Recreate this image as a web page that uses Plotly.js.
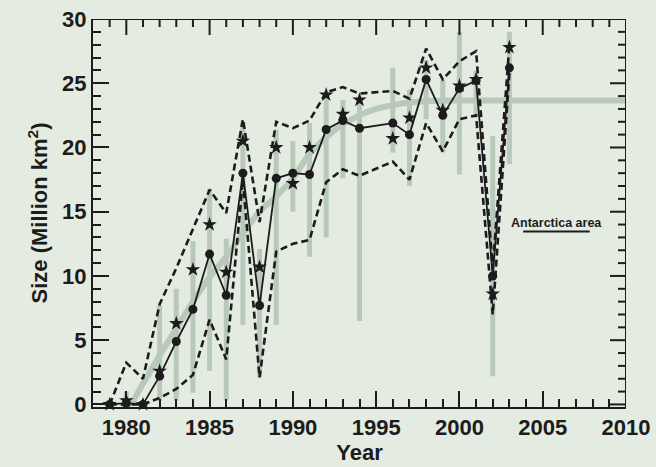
<!DOCTYPE html>
<html>
<head>
<meta charset="utf-8">
<script src="https://cdn.plot.ly/plotly-3.0.1.min.js"></script>
<style>html,body{margin:0;padding:0;background:#e4ebe1;}</style>
</head>
<body>
<div id="chart" style="width:656px;height:467px;"></div>
<script>
// Years with observations (no data in 1995)
const years = [1979,1980,1981,1982,1983,1984,1985,1986,1987,1988,1989,1990,1991,1992,1993,1994,1996,1997,1998,1999,2000,2001,2002,2003];
// Mean size (solid line with dots)
const meanSize = [0,0.1,0,2.2,4.9,7.4,11.7,8.5,18.0,7.7,17.6,18.0,17.9,21.4,22.1,21.5,21.9,21.0,25.3,22.5,24.6,25.2,10.0,26.2];
// Star markers
const starSize = [0,0.3,0,2.6,6.3,10.5,14.0,10.3,20.5,10.7,20.0,17.2,20.0,24.1,22.6,23.7,20.7,22.3,26.2,22.9,24.8,25.3,8.6,27.8];
// Upper and lower dashed envelopes
const upperSize = [0,3.25,2.0,7.8,10.6,13.6,16.7,14.9,22.2,14.2,22.0,21.5,22.1,24.3,24.7,24.2,24.4,23.8,27.7,25.3,26.7,27.5,10.6,28.0];
const lowerSize = [0,0,0,0.5,1.2,2.3,6.6,3.5,17.5,2.1,11.9,12.5,12.8,17.3,18.3,17.8,18.9,17.5,21.9,19.7,22.2,22.5,7.0,25.8];
// Grey range bars
const barYears = [1980,1982,1983,1984,1985,1986,1987,1988,1989,1990,1991,1992,1993,1994,1996,1997,1998,1999,2000,2001,2002,2003];
const barLow  = [0,0.3,0.3,0.9,2.6,0.3,6.2,2.1,6.2,15.0,11.5,13.0,17.6,6.5,19.6,17.0,22.2,19.6,17.9,22.5,2.2,18.7];
const barHigh = [1.0,7.7,9.0,12.7,16.8,12.9,22.0,12.1,21.4,20.5,21.9,24.0,23.7,23.5,26.2,24.5,26.8,25.3,29.0,26.0,20.9,29.0];
// Grey smooth fitted curve
const fitYears = [1980.3,1981,1982,1983,1984,1985,1986,1987,1988,1989,1990,1991,1992,1993,1994,1995,1996,1997,1998,2000,2010];
const fitSize  = [0,1.6,3.8,5.9,8.0,9.9,11.5,13.3,15.0,16.2,17.6,19.5,20.8,21.8,22.5,23.0,23.3,23.5,23.6,23.65,23.65];
// Axis ticks
const xTicks = [1980,1985,1990,1995,2000,2005,2010];
const yTicks = [0,5,10,15,20,25,30];
const xRange = [1978,2010];
const yRange = [-0.2,30];

const grey = 'rgb(184,201,186)';
const ink = '#1c1c1c';
const bg = '#e4ebe1';
const fam = 'Liberation Sans, Arial, sans-serif';

const W = 656, H = 467;
const M = {l:93, r:30, t:19, b:60};
const plotW = W - M.l - M.r, plotH = H - M.t - M.b;
// pixel -> data unit conversion for the tick lengths of the top/right frame
const pxX = (xRange[1] - xRange[0]) / plotW;
const pxY = (yRange[1] - yRange[0]) / plotH;

// top/right frame with its ticks, built from the axis ranges (decoration only)
const frameX = [xRange[0], xRange[1], xRange[1]];
const frameY = [yRange[1], yRange[1], yRange[0]];
const tickX = [], tickY = [];
for (let yr = xRange[0] + 1; yr < xRange[1]; yr++) {
  const len = (yr % 5 === 0 ? 16 : 8) * pxY;
  tickX.push(yr, yr, null); tickY.push(yRange[1], yRange[1] - len, null);
}
for (let v = 0; v < yRange[1]; v++) {
  const len = (v % 5 === 0 ? 16 : 8) * pxX;
  tickX.push(xRange[1], xRange[1] - len, null); tickY.push(v, v, null);
}

const traces = [
  {type:'bar', x:barYears, base:barLow, y:barHigh.map((h,i)=>h-barLow[i]),
   width:0.3, marker:{color:grey, line:{width:0}}, hoverinfo:'skip', showlegend:false},
  {type:'scatter', mode:'lines', x:fitYears, y:fitSize, line:{color:grey, width:6, shape:'spline'}, showlegend:false},
  {type:'scatter', mode:'lines', x:years, y:upperSize, line:{color:ink, width:2.6, dash:'7px,4px'}, showlegend:false, cliponaxis:false},
  {type:'scatter', mode:'lines', x:years, y:lowerSize, line:{color:ink, width:2.6, dash:'7px,4px'}, showlegend:false, cliponaxis:false},
  {type:'scatter', mode:'lines+markers', x:years, y:meanSize, line:{color:ink, width:1.8},
   marker:{symbol:'circle', size:9, color:ink}, showlegend:false, cliponaxis:false},
  {type:'scatter', mode:'markers', x:years, y:starSize,
   marker:{symbol:'star', size:11, color:ink}, showlegend:false, cliponaxis:false},
  {type:'scatter', mode:'lines', x:frameX, y:frameY, line:{color:ink, width:2},
   hoverinfo:'skip', showlegend:false, cliponaxis:false},
  {type:'scatter', mode:'lines', x:tickX, y:tickY, line:{color:ink, width:2},
   connectgaps:false, hoverinfo:'skip', showlegend:false, cliponaxis:false}
];

const tickFont = {family:fam, size:22, color:ink, weight:'bold'};

const layout = {
  width:W, height:H,
  margin:M,
  paper_bgcolor:bg, plot_bgcolor:bg,
  barmode:'overlay',
  showlegend:false,
  xaxis:{
    range:xRange, tickvals:xTicks, ticktext:xTicks.map(String),
    ticks:'inside', ticklen:16, tickwidth:2, tickcolor:ink,
    minor:{dtick:1, tick0:1978, ticks:'inside', ticklen:8, tickwidth:2, tickcolor:ink},
    showline:true, linewidth:2, linecolor:ink,
    showgrid:false, zeroline:false, tickfont:tickFont,
    title:{text:'Year', font:tickFont, standoff:4}
  },
  yaxis:{
    range:yRange, tickvals:yTicks, ticktext:yTicks.map(String),
    ticks:'inside', ticklen:16, tickwidth:2, tickcolor:ink,
    minor:{dtick:1, tick0:0, ticks:'inside', ticklen:8, tickwidth:2, tickcolor:ink},
    showline:true, linewidth:2, linecolor:ink,
    showgrid:false, zeroline:false, tickfont:tickFont,
    title:{text:'Size (Million km<sup>2</sup>)', font:tickFont, standoff:8}
  },
  annotations:[
    {xref:'paper', yref:'paper', x:0.87, y:0.475, xanchor:'center', yanchor:'middle',
     text:'Antarctica area', showarrow:false,
     font:{family:fam, size:12.5, color:ink, weight:'bold'}}
  ],
  shapes:[
    {type:'line', xref:'paper', yref:'paper', x0:0.807, x1:0.932, y0:0.452, y1:0.452,
     line:{color:ink, width:2}}
  ]
};

Plotly.newPlot('chart', traces, layout, {displayModeBar:false, staticPlot:true});
</script>
</body>
</html>
